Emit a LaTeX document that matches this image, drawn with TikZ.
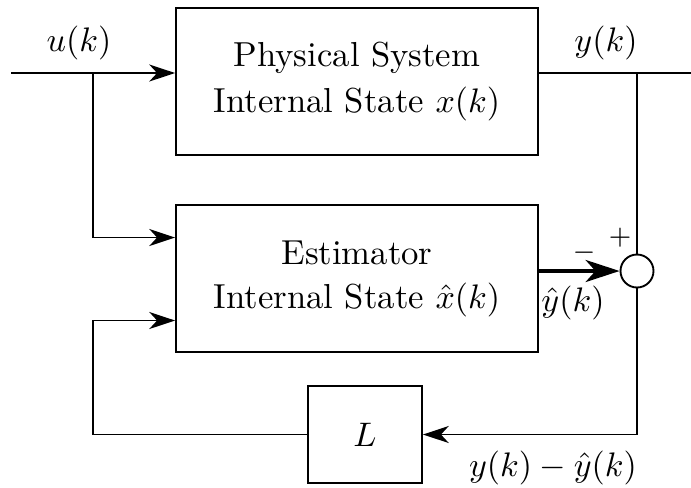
\documentclass[tikz,border=0pt]{standalone}
\usetikzlibrary{arrows.meta}
\begin{document}
\begin{tikzpicture}[x=0.294pt,y=-0.294pt,
  line width=0.55pt,
  font=\fontsize{10.2}{13.5}\selectfont,
  blk/.style={draw, rectangle, inner sep=0pt, align=center},
  sumnode/.style={draw, circle, inner sep=0pt, minimum size=9.7pt, fill=white},
  arr/.style={-{Stealth[length=7.6pt,width=5pt,inset=2.3pt]}},
  thickarr/.style={line width=0.9pt, -{Stealth[length=10pt,width=6.5pt,inset=2.9pt]}},
  lbl/.style={inner sep=0pt},
  sgn/.style={inner sep=0pt, font=\fontsize{8.5}{10}\selectfont}]
\useasboundingbox (0,0) rectangle (691,487);

\node[blk, minimum width=106.4pt, minimum height=43.2pt] (sys) at (357,81.5) {Physical System\\Internal State $x(k)$};
\node[blk, minimum width=106.4pt, minimum height=43.2pt, font=\fontsize{10.2}{12.9}\selectfont] (est) at (357,278.5) {Estimator\\Internal State $\hat{x}(k)$};
\node[blk, minimum width=33.5pt, minimum height=28.5pt] (L) at (365,434.5) {$L$};
\node[sumnode] (sum) at (637,271) {};

\coordinate (in) at (11,73);
\coordinate (b1) at (93,73);
\coordinate (b2) at (637,73);
\coordinate (out) at (691,73);

\draw[arr] (in) -- (in -| sys.west);
\draw (in -| sys.east) -- (out);
\draw[arr] (b1) |- ([yshift=12.05pt]est.west);
\draw (b2) -- (sum.north);
\draw[thickarr] (sum -| est.east) -- (sum.west);
\draw[arr] (sum.south) |- (L.east);
\draw[arr] (L.west) -- (L.west -| b1) |- ([yshift=-12.35pt]est.west);

\node[lbl] (lu) at (79,43) {$u(k)$};
\node[lbl] (ly) at (606,43) {$y(k)$};
\node[sgn] (lm) at (584,253) {$-$};
\node[sgn] (lp) at (620,238) {$+$};
\node[lbl] (lyh) at (573,303) {$\hat{y}(k)$};
\node[lbl] (le) at (553,468) {$y(k)-\hat{y}(k)$};
\end{tikzpicture}
\end{document}
